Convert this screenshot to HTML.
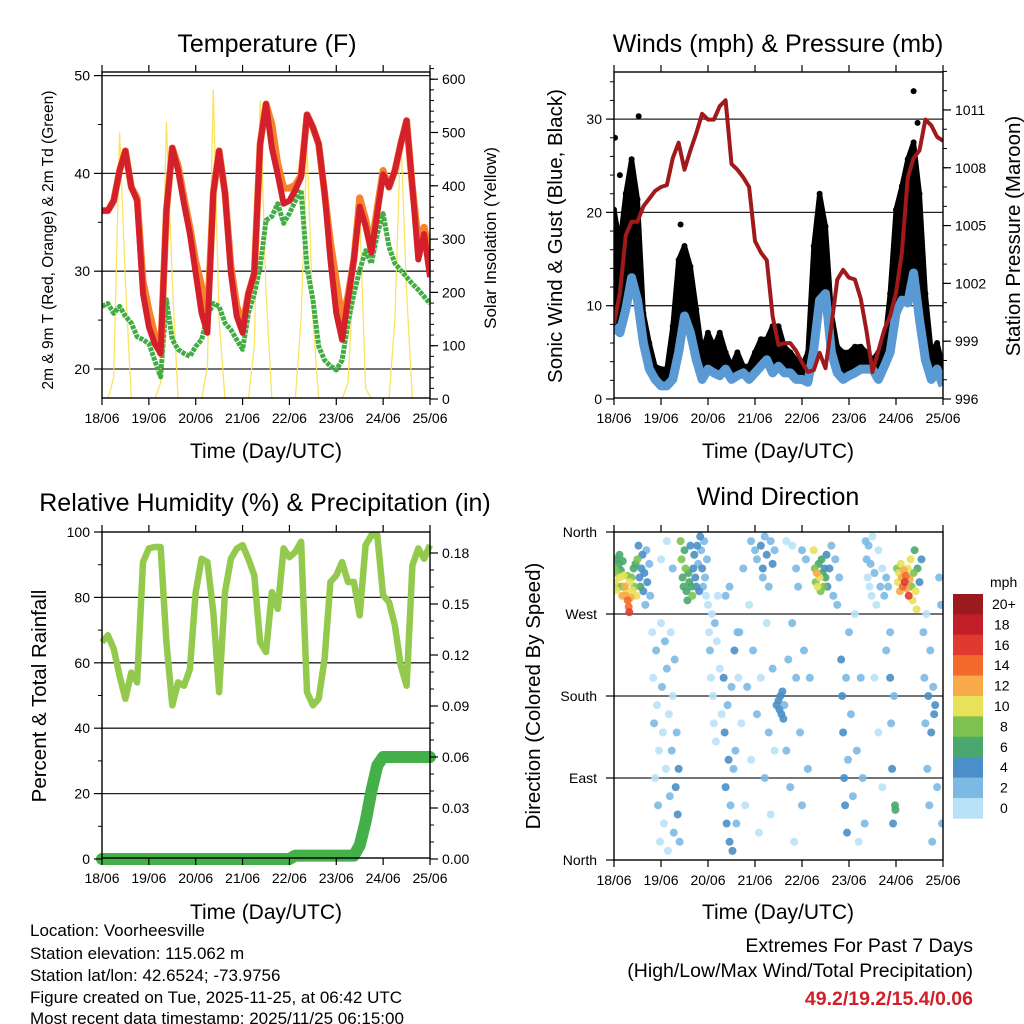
<!DOCTYPE html>
<html><head><meta charset="utf-8">
<style>
html,body{margin:0;padding:0;background:#fff;}
svg{display:block;font-family:"Liberation Sans",Arial,sans-serif;}
</style></head>
<body>
<svg id="fig" width="1024" height="1024" viewBox="0 0 1024 1024" xmlns="http://www.w3.org/2000/svg">
<rect width="1024" height="1024" fill="#fff"/>
<text x="267" y="52" font-size="25" text-anchor="middle">Temperature (F)</text>
<text x="778" y="52" font-size="25" text-anchor="middle">Winds (mph) &amp; Pressure (mb)</text>
<text x="265" y="511" font-size="25" text-anchor="middle">Relative Humidity (%) &amp; Precipitation (in)</text>
<text x="778" y="505" font-size="25" text-anchor="middle">Wind Direction</text>

<text transform="translate(53,240) rotate(-90)" font-size="15.5" text-anchor="middle">2m &amp; 9m T (Red, Orange) &amp; 2m Td (Green)</text>
<text transform="translate(496,238) rotate(-90)" font-size="17" text-anchor="middle">Solar Insolation (Yellow)</text>
<text transform="translate(562,236) rotate(-90)" font-size="20.5" text-anchor="middle">Sonic Wind &amp; Gust (Blue, Black)</text>
<text transform="translate(1020,236) rotate(-90)" font-size="20.5" text-anchor="middle">Station Pressure (Maroon)</text>
<text transform="translate(46,696) rotate(-90)" font-size="20.5" text-anchor="middle">Percent &amp; Total Rainfall</text>
<text transform="translate(540,696) rotate(-90)" font-size="20.5" text-anchor="middle">Direction (Colored By Speed)</text>

<text x="266" y="458" font-size="21" text-anchor="middle">Time (Day/UTC)</text>
<text x="778" y="458" font-size="21" text-anchor="middle">Time (Day/UTC)</text>
<text x="266" y="919" font-size="21" text-anchor="middle">Time (Day/UTC)</text>
<text x="778" y="919" font-size="21" text-anchor="middle">Time (Day/UTC)</text>

<g font-size="17">
<text x="30" y="936">Location: Voorheesville</text>
<text x="30" y="959">Station elevation: 115.062 m</text>
<text x="30" y="981">Station lat/lon: 42.6524; -73.9756</text>
<text x="30" y="1003">Figure created on Tue, 2025-11-25, at 06:42 UTC</text>
<text x="30" y="1024">Most recent data timestamp: 2025/11/25 06:15:00</text>
</g>
<g font-size="19.5" text-anchor="end">
<text x="973" y="952">Extremes For Past 7 Days</text>
<text x="973" y="977">(High/Low/Max Wind/Total Precipitation)</text>
<text x="973" y="1005" font-weight="bold" fill="#d0202a">49.2/19.2/15.4/0.06</text>
</g>
<g id="layer"></g>
</svg>
<script>
const dayLabels = ["18/06","19/06","20/06","21/06","22/06","23/06","24/06","25/06"];
const hours = Array.from({length:57},(_,i)=>i*3);
const tempRed = [36.2,36.2,37.2,40.3,42.3,38.6,37.2,27.7,24.3,22.6,21.6,36.2,42.6,40.3,36.9,33.8,29.8,25.7,23.7,38,42.3,38,29.8,25.4,23.7,27.7,29.8,43,47.1,42.6,39.9,36.9,37.2,38.3,39.6,46,44.7,43,38,31.2,25.7,23,27.1,31.2,36.6,34.6,31.9,35.9,39.9,38.6,40.3,43,45.4,38.6,31.2,33.8,29.4];
const tempOrange = [36.2,36.2,37.2,40.3,42.3,38.6,37.5,29,26,23.5,21.6,36.2,42.6,40.8,37.5,34.5,31,28.5,25,38,42.3,38,30.5,26.5,24.5,27.7,29.8,43,47.1,45,41,38.5,38.5,38.8,39.8,46,44.7,43,38,33,29,25,27.5,31.2,37.5,35.3,32.5,36.5,40.3,38.6,40.3,43,45.4,38.6,33,34.5,31.5];
const dewpoint = [26.4,26.7,25.7,26.4,25.4,24.7,23.3,23,22.6,20.9,19.2,27.1,23,22,21.6,21.3,22.3,23,25.4,26.7,26.4,24.7,24,23,22,25.7,27.7,30.4,35.2,35.6,36.9,34.9,35.9,37.2,38.3,30.4,27.1,22.3,20.9,20.3,19.9,20.9,24.7,27.7,30.1,32.1,30.8,33.8,35.9,32.5,30.8,30.1,29.4,28.7,28.1,27.4,26.7];
const solar = [0,0,40,500,220,0,0,0, 0,0,30,520,220,0,0,0, 0,0,60,580,150,0,0,0, 0,0,100,560,200,0,0,0, 0,0,150,480,150,0,0,0, 0,0,30,250,350,20,0,0, 0,0,150,500,200,0,0,0, 0];
const pressure = [999.9,1001.5,1004.5,1005.2,1005.2,1006,1006.4,1006.8,1007,1007.1,1008.5,1009.3,1007.9,1008.9,1009.8,1010.8,1010.5,1010.5,1011.2,1011.5,1008.2,1007.9,1007.5,1007,1004.2,1003.6,1003.2,1000.3,998.8,998.9,998.9,998.5,997.9,997.4,997.5,998.4,997.6,999.8,1002.2,1002.7,1002.3,1002.2,1001.2,999.5,997.4,998.5,999.6,1000.3,1001.5,1003.6,1007.5,1008.5,1008.9,1010.5,1010.2,1009.6,1009.4];
const windSpeed = [7.8,7.1,9.6,13,10.6,6,3.2,2.1,1.4,1.4,2.1,5,8.9,7.1,4.2,2.1,3.2,2.8,2.5,3.2,2.1,2.5,2.8,2.1,2.8,3.5,4.2,2.8,3.5,2.8,2.8,2.1,2.1,1.8,5.3,10.6,11.3,5,2.8,2.1,2.5,2.8,3.2,3.2,3.2,2.1,3.5,5,9.2,10.6,10.3,13.5,8.5,4.2,2.1,3.2,1.4];
const windGust = [20.3,16.7,22,25.7,21.4,9.2,6,3.5,3.2,3.2,7.8,14.9,16.4,14.2,9.6,5,7.1,5.6,7.1,5,3.5,5,3.5,3.5,5,6.4,6.4,7.8,7.8,5.6,5,4.2,3.5,5,16.4,22,18.5,9.2,5.6,5,5,5.6,5.6,5,4.2,5,5.6,11.3,20.3,22.8,25.7,27.5,22,11.3,5,6,3.5];
const gustOutlierHours = [0.5,3,12.6,34,153,155];
const gustOutlierValues = [28,24,30.3,18.7,33,29.6];
const humidity = [66.3,68.4,64.3,56,49,57,54,90.8,95,95.4,95.4,66.3,47,54,53,58,81.6,91.8,90.8,75.5,51,81.6,91.8,94.9,96,91.8,86.7,66.3,63.3,81.6,76.5,95,92.3,93.9,97,51,47,49,61.2,84.7,86.7,90.8,84.7,84.7,74.5,96,99,99,80.6,78.6,71.4,59.2,53,89.8,95,91.8,96];
const precip = [0,0,0,0,0,0,0,0,0,0,0,0,0,0,0,0,0,0,0,0,0,0,0,0,0,0,0,0,0,0,0,0,0,0.002,0.002,0.002,0.002,0.002,0.002,0.002,0.002,0.002,0.002,0.002,0.008,0.022,0.04,0.055,0.06,0.06,0.06,0.06,0.06,0.06,0.06,0.06,0.06];
const dirHours = [0.3,0.6,1,1.5,2,2.5,3,3.5,4,4.5,5,1.2,2.8,4.2, 5.5,6,6.5,7,7.5,7.8,8,8.5,9,9.5,10,6.8,10.5,11,11.5, 12,12.5,13,13.5,14,14.5,15,15.5,16,16.5,17,18,18.5, 19.5,20,20.5,21,21.5,22,22.5,23,23.5,24,24.5,25,25.5,26,26.5,27,27.5,28,28.5,29,29.5,30,30.5,31,31.5,32,32.5,33,33.5,24,27,30, 34,34.5,35,35.5,36,36.5,37,37.5,38,38.5,39,39.5,40,40.5,41,41.5,42,42.5,43,43.5,44, 44.5,45,45.5,46,46.5,47,47.5, 48,48.5,49,49.5,50,50.5,51,51.5,52,52.5,53,54,55, 56,56.5,57,57.5,58,58.5,59,59.5,60,60.5,61,61.5,62,62.5,63,57,59, 63.5,64,65,66,67,68,69,70,71,72,73,74,75,76,77,78,79,80,81,82,70,73,75,76,77,78,79,80,81,82, 83,84,84.5,85,85.5,86,86.5,87,88,89,90,91,92,93,94,95,96,97,98,99,100,88,91,93,96, 102,102.5,103,103.5,104,104.5,105,105.5,106,106.5,107,107.5,108,108.5,109,110,111,112,113,114,115, 116,116.5,117,117.5,118,118.5,119,119.5,120,121,122,123,124,125,126,127,128, 128.5,129,129.5,130,130.5,131,131.5,132,133,134,135,136,137,138,139,140,133,135,137,139, 141,141.5,142,142.5,143,143.5,143.7,141, 144.5,145,145.5,146,146.5,147,147.5,148,148.5,149,149.5,150,150.5,151,151.5,152,152.5,153,153.5,154,154.5,155,156,157, 158,158.5,159,159.5,160,160.5,161,161.5,162,162.5,163,163.5,164,165,166,167,167.5];
const dirDegrees = [320,305,330,315,300,325,310,318,300,328,312,296,335,290, 300,290,295,285,278,272,305,288,310,296,320,312,300,325,290, 330,345,310,300,320,335,295,315,280,340,305,325,290, 250,200,150,90,230,170,60,120,20,260,190,140,40,240,100,210,10,160,70,250,120,180,30,220,80,140,50,100,20,330,350,320, 350,330,310,300,340,320,295,285,315,305,345,300,290,320,335,310,300,345,325,295,355, 340,320,300,350,310,290,330, 280,250,230,200,270,180,150,260,130,240,290,210,160, 200,140,80,40,170,110,20,60,190,10,100,230,120,40,250,290,300, 200,250,150,320,60,190,280,110,230,340,160,30,200,310,90,260,140,50,210,120,350,330,345,320,355,335,300,350,325,340, 170,175,165,180,160,185,155,170,120,220,80,260,20,200,300,140,60,230,330,100,200,350,345,320,340, 340,320,305,315,300,325,310,295,330,315,300,320,310,335,300,320,345,290,330,280,310, 220,180,140,90,60,200,30,110,250,160,70,270,120,20,200,90,40, 350,330,310,345,300,325,290,355,315,280,340,300,320,290,310,300,200,140,80,230, 200,150,100,40,180,60,55,250, 320,305,315,295,325,310,300,318,305,312,298,320,290,308,330,300,285,315,340,295,275,320,305,330, 250,200,150,270,100,180,60,230,140,20,190,160,170,80,310,280,40];
const dirSpeeds = [8,10,6,8,9,7,11,6,8,7,10,10,6,12, 12,13,11,14,15,17,10,12,8,10,6,9,9,7,11, 8,5,4,6,5,4,5,4,3,3,4,2,3, 1,1,2,1,2,1,2,1,1,1,2,1,1,2,1,2,1,1,2,1,2,1,2,3,4,3,4,5,3,1,1,2, 8,9,7,6,7,8,6,7,6,7,5,6,8,5,4,5,4,4,3,4,4, 3,4,3,2,2,1,2, 1,1,2,1,1,1,1,2,1,1,1,1,1, 4,5,4,5,3,5,4,3,3,4,3,4,3,2,3,2,2, 1,2,1,2,1,2,1,1,2,3,2,1,1,2,2,1,2,1,2,1,2,3,4,4,3,4,3,3,4,3, 4,5,4,5,4,5,4,3,2,2,2,2,1,2,2,3,2,2,3,2,2,1,1,2,2, 10,8,9,12,11,7,10,8,6,7,9,5,6,4,4,4,3,3,2,2,2, 4,5,4,5,4,3,4,3,3,2,2,1,2,1,2,3,2, 2,2,1,2,1,2,1,1,2,1,1,2,1,3,2,3,1,1,1,2, 4,3,4,5,3,7,7,3, 9,10,11,12,10,13,14,12,16,15,13,11,17,12,10,9,11,8,7,10,10,6,5,4, 2,3,2,1,3,4,2,3,4,2,3,5,4,2,2,2,3];
const speedBinLabels = ["0","2","4","6","8","10","12","14","16","18","20+"];
const speedBinColors = ["#b9e2f7","#7cb9e4","#4a8fc7","#4aa76d","#7dc24f","#e8e25a","#f9aa48","#f26a2c","#e03a2e","#c21f29","#9a1a1e"];

const NS="http://www.w3.org/2000/svg";
const layer=document.getElementById('layer');
function mk(tag,attrs,parent){const e=document.createElementNS(NS,tag);for(const k in attrs)e.setAttribute(k,attrs[k]);(parent||layer).appendChild(e);return e;}
function txt(x,y,s,size,anchor,parent){const e=mk('text',{x:x,y:y,'font-size':size,'text-anchor':anchor},parent);e.textContent=s;return e;}

const L={x0:102,x1:430}, R={x0:614,x1:943};
function xScale(p){return t=>p.x0+t/168*(p.x1-p.x0);}
const xl=xScale(L), xr=xScale(R);
const yTemp=v=>369-(v-20)*9.78;
const ySolar=v=>399-v*0.533;
const yWind=v=>399-v*9.33;
const yPres=v=>399-(v-996)*19.27;
const yRH=v=>859-v*3.27;
const yPrc=v=>859-v*1700;
const yDir=v=>860-v/360*328;

function pathD(ts,vs,xs,ys){return ts.map((t,i)=>(i?'L':'M')+xs(t).toFixed(1)+' '+ys(vs[i]).toFixed(1)).join(' ');}

function frame(p,top,bot,name){
  const g=mk('g',{});
  
  
  mk('rect',{x:p.x0,y:top,width:p.x1-p.x0,height:bot-top,fill:'none',stroke:'#000','stroke-width':1.4},g);
  const xs=xScale(p);
  dayLabels.forEach((d,i)=>{const x=xs(i*24);
    mk('line',{x1:x,x2:x,y1:top,y2:top-7,stroke:'#000','stroke-width':1.2},g);
    mk('line',{x1:x,x2:x,y1:bot,y2:bot+7,stroke:'#000','stroke-width':1.2},g);
    const t=txt(x,bot+25,d,14,'middle',g);
    
    
  });
  return g;
}
function grid(p,ys,vals){vals.forEach(v=>mk('line',{x1:p.x0,x2:p.x1,y1:ys(v),y2:ys(v),stroke:'#222','stroke-width':1.3}));}
function yTicks(x,dir,ys,majors,minors,labelFn,g){
  minors.forEach(v=>mk('line',{x1:x,x2:x+dir*4,y1:ys(v),y2:ys(v),stroke:'#000','stroke-width':1},g));
  majors.forEach(v=>{mk('line',{x1:x,x2:x+dir*8,y1:ys(v),y2:ys(v),stroke:'#000','stroke-width':1.2},g);
    const t=txt(x+dir*12,ys(v)+5,labelFn(v),14,dir<0?'end':'start',g);
    
    });
}

const cT=mk('defs',{});
const cp1=mk('clipPath',{id:'c1'},cT);mk('rect',{x:L.x0,y:72,width:L.x1-L.x0,height:326},cp1);
const cp2=mk('clipPath',{id:'c2'},cT);mk('rect',{x:R.x0,y:72,width:R.x1-R.x0,height:326},cp2);
const cp3=mk('clipPath',{id:'c3'},cT);mk('rect',{x:L.x0-8,y:532,width:L.x1-L.x0+16,height:335},cp3);
const cp4=mk('clipPath',{id:'c4'},cT);mk('rect',{x:R.x0,y:532,width:R.x1-R.x0,height:330},cp4);

/* ---- Temperature panel ---- */
grid(L,yTemp,[20,30,40,50]);
const gT=mk('g',{'clip-path':'url(#c1)'});


let e;
e=mk('path',{d:pathD(hours,solar,xl,ySolar),fill:'none',stroke:'#fbe04e','stroke-width':1.3,opacity:0.9},gT);


e=mk('path',{d:pathD(hours,dewpoint,xl,yTemp),fill:'none',stroke:'#43ad45','stroke-width':5,'stroke-dasharray':'4 1','stroke-linejoin':'round'},gT);


e=mk('path',{d:pathD(hours,tempOrange,xl,yTemp),fill:'none',stroke:'#f7812c','stroke-width':7,'stroke-linejoin':'round'},gT);


e=mk('path',{d:pathD(hours,tempRed,xl,yTemp),fill:'none',stroke:'#d3202a','stroke-width':6,'stroke-linejoin':'round'},gT);


const fT=frame(L,72,398,'temperature-axes');
yTicks(L.x0,-1,yTemp,[20,30,40,50],[25,35,45],v=>String(v),fT);
const solMinor=[];for(let v=0;v<=620;v+=20)solMinor.push(v);
yTicks(L.x1,1,ySolar,[0,100,200,300,400,500,600],solMinor,v=>String(v),fT);

/* ---- Winds panel ---- */
grid(R,yWind,[10,20,30]);
const gW=mk('g',{'clip-path':'url(#c2)'});


let band='M'+hours.map((t,i)=>xr(t).toFixed(1)+' '+yWind(windGust[i]).toFixed(1)).join(' L');
band+=' L'+hours.slice().reverse().map((t,j)=>{const i=hours.length-1-j;return xr(t).toFixed(1)+' '+yWind(windSpeed[i]).toFixed(1);}).join(' L')+' Z';
e=mk('path',{d:band,fill:'#000'},gW);


e=mk('path',{d:pathD(hours,windGust,xr,yWind),fill:'none',stroke:'#000','stroke-width':5,'stroke-linejoin':'round'},gW);


hours.forEach((t,i)=>{const c=mk('circle',{cx:xr(t),cy:yWind(windGust[i]),r:3,fill:'#000'},gW);
  
  });
gustOutlierHours.forEach((t,i)=>{const c=mk('circle',{cx:xr(t),cy:yWind(gustOutlierValues[i]),r:3,fill:'#000'},gW);
  
  });
e=mk('path',{d:pathD(hours,windSpeed,xr,yWind),fill:'none',stroke:'#5a9ad4','stroke-width':9,'stroke-linejoin':'round'},gW);


e=mk('path',{d:pathD(hours,pressure,xr,yPres),fill:'none',stroke:'#a01a1c','stroke-width':4,'stroke-linejoin':'round'},gW);


const fW=frame(R,72,398,'winds-axes');
const wMinor=[];for(let v=0;v<=34;v+=2)wMinor.push(v);
yTicks(R.x0,-1,yWind,[0,10,20,30],wMinor,v=>String(v),fW);
const pMinor=[];for(let v=996;v<=1013;v++)pMinor.push(v);
yTicks(R.x1,1,yPres,[996,999,1002,1005,1008,1011],pMinor,v=>String(v),fW);

/* ---- Humidity panel ---- */
grid(L,yRH,[20,40,60,80]);
const gH=mk('g',{'clip-path':'url(#c3)'});


e=mk('path',{d:pathD(hours,humidity,xl,yRH),fill:'none',stroke:'#93c94d','stroke-width':6.5,'stroke-linejoin':'round'},gH);


e=mk('path',{d:pathD(hours,precip,xl,yPrc),fill:'none',stroke:'#45b04a','stroke-width':12,'stroke-linejoin':'round','stroke-linecap':'round'},gH);


const fH=frame(L,532,858,'humidity-axes');
yTicks(L.x0,-1,yRH,[0,20,40,60,80,100],[10,30,50,70,90],v=>String(v),fH);
const prMinor=[];for(let v=0;v<=0.19;v+=0.01)prMinor.push(v);
yTicks(L.x1,1,yPrc,[0,0.03,0.06,0.09,0.12,0.15,0.18],prMinor,v=>v.toFixed(2),fH);

/* ---- Wind direction panel ---- */
const dirNames=[[360,'North'],[270,'West'],[180,'South'],[90,'East'],[0,'North']];
dirNames.forEach(([v])=>{if(v>0&&v<360)mk('line',{x1:R.x0,x2:R.x1,y1:yDir(v),y2:yDir(v),stroke:'#222','stroke-width':1.3});});
const gD=mk('g',{'clip-path':'url(#c4)'});


function binOf(s){return Math.min(10,Math.floor(s/2));}
const order=dirHours.map((_,i)=>i).sort((a,b)=>dirSpeeds[a]-dirSpeeds[b]);
order.forEach(i=>{const c=mk('circle',{cx:xr(dirHours[i]),cy:yDir(dirDegrees[i]),r:4,fill:speedBinColors[binOf(dirSpeeds[i])],opacity:0.9},gD);
  
  });
const fD=frame(R,532,860,'direction-axes');
dirNames.forEach(([v,n])=>{mk('line',{x1:R.x0,x2:R.x0-8,y1:yDir(v),y2:yDir(v),stroke:'#000','stroke-width':1.2},fD);
  const t=txt(R.x0-17,yDir(v)+5,n,14,'end',fD);
  
  });

/* ---- colorbar ---- */
const cb=mk('g',{});


const cbTop=594,cbH=20.4;
txt(990,587,'mph',14,'start',cb);
speedBinLabels.slice().reverse().forEach((lab,j)=>{const i=10-j;
  const r=mk('rect',{x:953,y:cbTop+j*cbH,width:30,height:cbH+0.3,fill:speedBinColors[i]},cb);
  
  
  const t=txt(lab==='20+'?992:(lab.length>1?994:1000),cbTop+j*cbH+15,lab,14,'start',cb);
  
  
});
</script>
</body></html>
